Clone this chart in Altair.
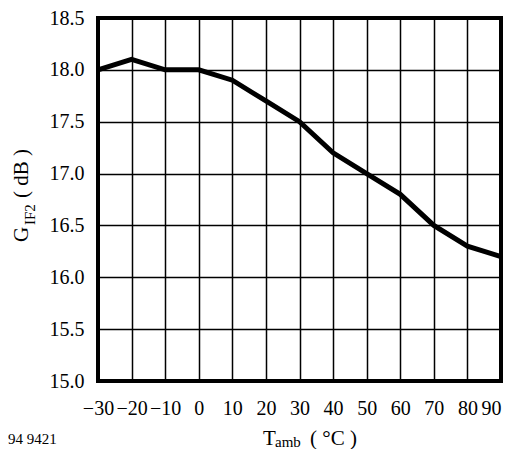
import altair as alt
import pandas as pd

temps = [-30, -20, -10, 0, 10, 20, 30, 40, 50, 60, 70, 80, 90]
gain = [18.0, 18.1, 18.0, 18.0, 17.9, 17.7, 17.5, 17.2, 17.0, 16.8, 16.5, 16.3, 16.2]
x_ticks = [-30, -20, -10, 0, 10, 20, 30, 40, 50, 60, 70, 80, 90]
y_ticks = [15.0, 15.5, 16.0, 16.5, 17.0, 17.5, 18.0, 18.5]

FONT = "Liberation Serif"
W, H = 403, 363

df = pd.DataFrame({"t": temps, "g": gain})

line = alt.Chart(df).mark_line(color="black", strokeWidth=5, clip=False).encode(
    x=alt.X("t:Q", scale=alt.Scale(domain=[-30, 90], nice=False, zero=False),
            axis=alt.Axis(values=x_ticks, title=None, grid=True, domain=False, ticks=False,
                          labelFont=FONT, labelFontSize=20, labelColor="black",
                          labelPadding=17, gridColor="black", gridWidth=1.5, gridOpacity=1,
                          labelFlush=False,
                          labelAlign=alt.condition("datum.value == 90", alt.value("right"), alt.value("center")))),
    y=alt.Y("g:Q", scale=alt.Scale(domain=[15.0, 18.5], nice=False, zero=False),
            axis=alt.Axis(values=y_ticks, title=None, grid=True, domain=False, ticks=False,
                          format=".1f", labelFont=FONT, labelFontSize=20, labelColor="black",
                          labelPadding=14, gridColor="black", gridWidth=1.5, gridOpacity=1,
                          labelFlush=False)),
)


def txt(s, x, y, size, angle=0):
    return alt.Chart(pd.DataFrame({"s": [s]})).mark_text(
        font=FONT, fontSize=size, color="black", align="left", baseline="alphabetic",
        angle=angle, clip=False
    ).encode(text="s:N", x=alt.value(x), y=alt.value(y))


y_title = [
    txt("G", -70, 224, 21, 270),
    txt("IF2", -63, 207, 15, 270),
    txt("( dB )", -70, 180, 21, 270),
]
x_title = [
    txt("T", 165, 427, 21),
    txt("amb", 177, 429, 15),
    txt("( °C )", 212, 427, 21),
]
code = [txt("94 9421", -90, 426, 15)]

chart = alt.layer(line, *y_title, *x_title, *code).properties(
    width=W, height=H,
    autosize=alt.AutoSizeParams(type="none"),
    padding={"left": 90, "top": 10, "right": 3, "bottom": 68},
).configure_view(stroke="black", strokeWidth=4)

chart.save("out.html", embed_options={"renderer": "svg", "actions": False})
